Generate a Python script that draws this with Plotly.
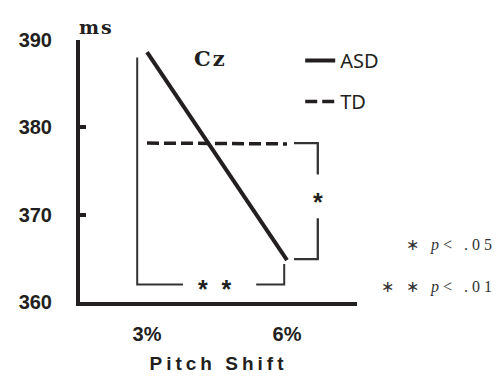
import plotly.graph_objects as go

# Mean latency (ms) at electrode Cz for the two pitch-shift sizes
shift_labels = ["3%", "6%"]
shift_pos = [0, 1]
asd_ms = [388.6, 364.8]
td_ms = [378.2, 378.1]
y_ticks = [360, 370, 380, 390]

# Significance brackets (data coordinates, None breaks the line)
shift_bracket_x = [-0.07, -0.07, 0.257, None, 0.78, 0.98, 0.98]
shift_bracket_y = [388.0, 362.0, 362.0, None, 362.0, 362.0, 364.35]
group_bracket_x = [1.05, 1.22, 1.22, None, 1.22, 1.22, 1.05]
group_bracket_y = [378.2, 378.2, 374.6, None, 369.6, 364.9, 364.9]
shift_star = (0.486, 362.0)
group_star = (1.22, 371.9)

INK = "#231f20"

fig = go.Figure()
fig.add_trace(go.Scatter(
    x=shift_pos, y=asd_ms, mode="lines", name="ASD",
    line=dict(color=INK, width=4), legendgroup="asd"))
fig.add_trace(go.Scatter(
    x=shift_pos, y=td_ms, mode="lines", name="TD",
    line=dict(color=INK, width=3.5, dash="12px,5px"), legendgroup="td"))
fig.add_trace(go.Scatter(
    x=shift_bracket_x, y=shift_bracket_y, mode="lines", showlegend=False,
    line=dict(color="#333333", width=2), hoverinfo="skip"))
fig.add_trace(go.Scatter(
    x=group_bracket_x, y=group_bracket_y, mode="lines", showlegend=False,
    line=dict(color="#333333", width=2.3), hoverinfo="skip"))

star_font = dict(family="Liberation Sans", size=25, color=INK, weight="bold")
serif = dict(family="Liberation Serif", size=16, color="#333333")


def note(x, y, text, font, xref="x", yref="y", yshift=0):
    return dict(x=x, y=y, xref=xref, yref=yref, text=text, showarrow=False,
                xanchor="center", yanchor="middle", font=font, yshift=yshift)


annotations = [
    note(shift_star[0], shift_star[1], "*  *", star_font, yshift=-4),
    note(group_star[0], group_star[1], "*", star_font, yshift=-4),
    note(0.058, 1.0496, "ms",
         dict(family="DejaVu Serif", size=19, color=INK, weight="bold"),
         xref="paper", yref="paper"),
    note(0.45, 387.9, "Cz",
         dict(family="DejaVu Serif", size=21, color=INK, weight="bold")),
    note(1.339, 366.5, "∗ <i>p</i>< .05", serif, xref="paper"),
    note(1.296, 361.7, "∗ ∗ <i>p</i>< .01", serif, xref="paper"),
]

fig.update_layout(
    width=504, height=376,
    margin=dict(l=80, r=147, t=40, b=74, autoexpand=False),
    paper_bgcolor="white", plot_bgcolor="white",
    showlegend=True,
    legend=dict(x=0.795, y=0.996, xanchor="left", yanchor="top",
                traceorder="grouped", tracegroupgap=12,
                bgcolor="rgba(0,0,0,0)",
                font=dict(family="Noto Sans", size=20, color=INK)),
    annotations=annotations,
    xaxis=dict(
        range=[-0.4786, 1.5], tickvals=shift_pos, ticktext=shift_labels,
        showgrid=False, zeroline=False, showline=True, linewidth=4,
        linecolor=INK, ticks="", ticklabelstandoff=11, automargin=False,
        tickfont=dict(family="Liberation Sans", size=20, color=INK, weight="bold"),
        title=dict(text="Pitch Shift", standoff=14,
                   font=dict(family="Liberation Sans", size=19, color=INK,
                             weight="bold")),
    ),
    yaxis=dict(
        range=[360, 390], tickvals=y_ticks, showgrid=False, zeroline=False,
        showline=True, linewidth=4, linecolor=INK, automargin=False,
        ticks="inside", ticklen=6, tickwidth=4, tickcolor=INK,
        ticklabelstandoff=20,
        tickfont=dict(family="Liberation Sans", size=20, color=INK, weight="bold"),
    ),
)

# Letter-spaced labels
post = """
var gd = document.getElementById('{plot_id}');
function spaceText() {
  var rules = {'Pitch Shift': '4px', 'ms': '2px', 'Cz': '2px',
               '∗ p< .05': '4px', '∗ ∗ p< .01': '4px'};
  gd.querySelectorAll('text').forEach(function (t) {
    var s = rules[t.textContent];
    if (s) { t.style.letterSpacing = s; }
  });
}
spaceText();
gd.on('plotly_afterplot', spaceText);
"""

fig.write_html("out.html", post_script=post)
